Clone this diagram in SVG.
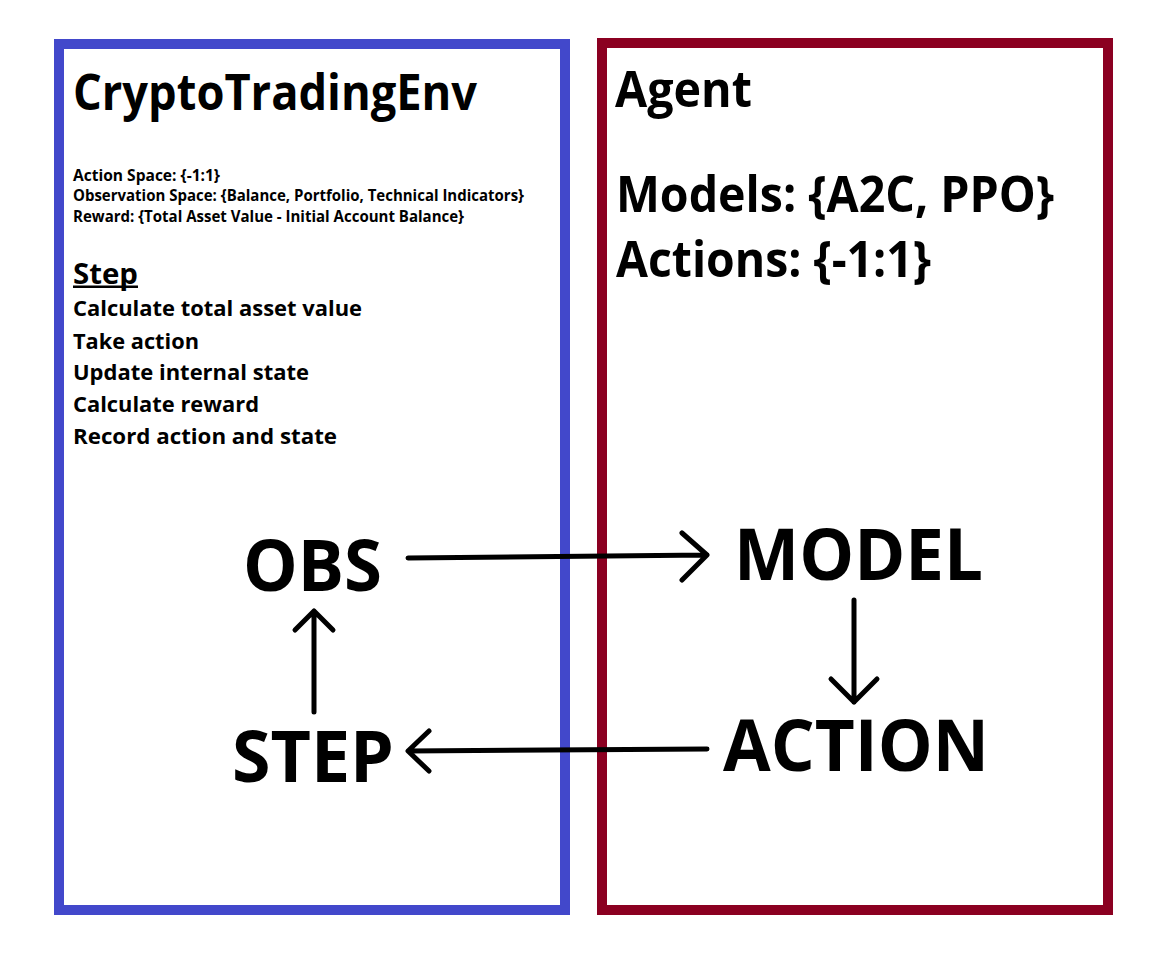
<svg xmlns="http://www.w3.org/2000/svg" width="1164" height="966" viewBox="0 0 1164 966">
  <style>
    text { font-family: "Open Sans", "Noto Sans", "Liberation Sans", sans-serif; font-weight: 700; fill: #000; }
    .frame { fill: none; stroke-width: 10; }
    .env { stroke: #4248CB; }
    .agent { stroke: #8B0021; }
    .big { font-size: 71px; }
    .h1 { font-size: 50px; }
    .small { font-size: 16px; }
    .item { font-size: 22px; }
    .conn { fill: none; stroke: #000; stroke-width: 5; stroke-linecap: round; stroke-linejoin: round; }
  </style>
  <rect x="0" y="0" width="1164" height="966" fill="#fff"/>

  <g id="env">
    <rect class="frame env" x="59" y="44" width="506" height="866"/>
    <text class="h1" x="73" y="110" textLength="404" lengthAdjust="spacingAndGlyphs">CryptoTradingEnv</text>
    <text class="small" x="73" y="180.5" textLength="147" lengthAdjust="spacingAndGlyphs">Action Space: {-1:1}</text>
    <text class="small" x="73" y="201" textLength="451" lengthAdjust="spacingAndGlyphs">Observation Space: {Balance, Portfolio, Technical Indicators}</text>
    <text class="small" x="73" y="222" textLength="391" lengthAdjust="spacingAndGlyphs">Reward: {Total Asset Value - Initial Account Balance}</text>
    <text x="73" y="284" font-size="29" textLength="65" lengthAdjust="spacingAndGlyphs">Step</text>
    <rect x="73" y="285.5" width="65" height="2.5" fill="#000"/>
    <text class="item" x="73" y="316" textLength="289" lengthAdjust="spacingAndGlyphs">Calculate total asset value</text>
    <text class="item" x="73" y="348.5" textLength="126" lengthAdjust="spacingAndGlyphs">Take action</text>
    <text class="item" x="73" y="380" textLength="236" lengthAdjust="spacingAndGlyphs">Update internal state</text>
    <text class="item" x="73" y="412" textLength="186" lengthAdjust="spacingAndGlyphs">Calculate reward</text>
    <text class="item" x="73" y="443.5" textLength="264" lengthAdjust="spacingAndGlyphs">Record action and state</text>
  </g>

  <g id="agent">
    <rect class="frame agent" x="602" y="43" width="506" height="867"/>
    <text class="h1" x="615" y="107" textLength="137" lengthAdjust="spacingAndGlyphs">Agent</text>
    <text class="h1" x="616" y="212" font-size="51" textLength="438" lengthAdjust="spacingAndGlyphs">Models: {A2C, PPO}</text>
    <text class="h1" x="616" y="277" font-size="51" textLength="315" lengthAdjust="spacingAndGlyphs">Actions: {-1:1}</text>
  </g>

  <g id="obs">
    <text class="big" x="243" y="591" textLength="139" lengthAdjust="spacingAndGlyphs">OBS</text>
  </g>
  <g id="step">
    <text class="big" x="232" y="782" textLength="162" lengthAdjust="spacingAndGlyphs">STEP</text>
  </g>
  <g id="model">
    <text class="big" x="734" y="580" textLength="249" lengthAdjust="spacingAndGlyphs">MODEL</text>
  </g>
  <g id="action">
    <text class="big" x="723" y="771" textLength="266" lengthAdjust="spacingAndGlyphs">ACTION</text>
  </g>

  <g id="connectors">
    <path class="conn" d="M408 558 L707 555 M682 533 L707 555 L682 580"/>
    <path class="conn" d="M854 600 L854 702 M831 679 L854 702 L877 679"/>
    <path class="conn" d="M707 749 L408 751 M429 731 L408 751 L429 771"/>
    <path class="conn" d="M314 712 L314 611 M295 630 L314 611 L333 630"/>
  </g>
</svg>
